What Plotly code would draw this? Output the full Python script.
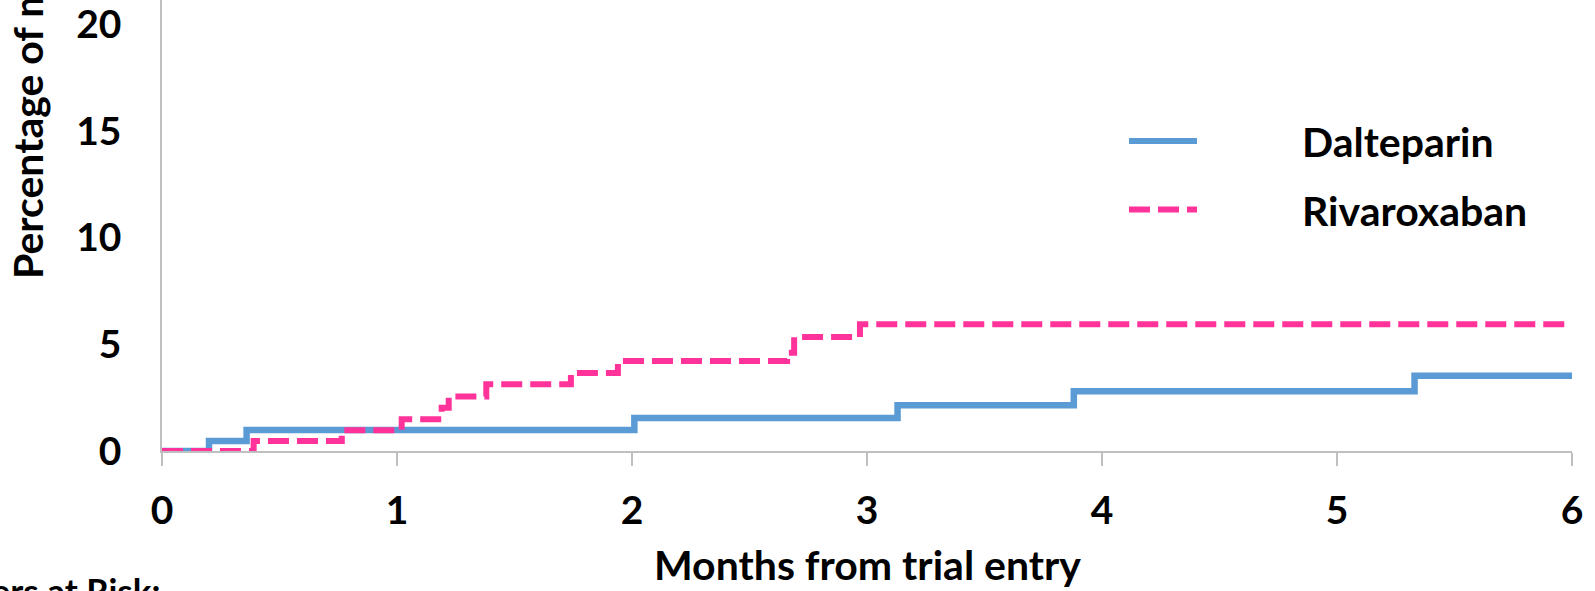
import plotly.graph_objects as go

# ---- data ----
months_ticks = [0, 1, 2, 3, 4, 5, 6]
pct_ticks = [0, 5, 10, 15, 20]

dalteparin_months = [0, 0.20, 0.36, 2.01, 3.13, 3.88, 5.33, 6.0]
dalteparin_pct = [0, 0.47, 0.99, 1.55, 2.15, 2.80, 3.53, 3.53]

rivaroxaban_months = [0, 0.39, 0.765, 1.02, 1.19, 1.22, 1.38, 1.74, 1.94, 2.66, 2.69, 2.97, 6.0]
rivaroxaban_pct = [0, 0.47, 0.97, 1.49, 2.03, 2.56, 3.13, 3.66, 4.22, 4.60, 5.34, 5.94, 5.94]

series_names = ["Dalteparin", "Rivaroxaban"]

FONT = "Lato"
FS = 41
FS_TICK = 39
BLUE = "#5B9BD5"
PINK = "#FF3399"
AXIS_GREY = "#BFBFBF"
DASH = "21px,8px"

W, H = 1595, 591
ML, MR, MT, MB = 162, 23, 0, 140
plot_w = W - ML - MR
plot_h = H - MT - MB


def px_x(pix):
    return (pix - ML) / plot_w


def px_y(pix):
    return (H - MB - pix) / plot_h


fig = go.Figure()
fig.add_trace(go.Scatter(
    x=dalteparin_months, y=dalteparin_pct, name=series_names[0],
    mode="lines", line=dict(color=BLUE, width=6.5, shape="hv"),
    showlegend=False,
))
fig.add_trace(go.Scatter(
    x=rivaroxaban_months, y=rivaroxaban_pct, name=series_names[1],
    mode="lines", line=dict(color=PINK, width=6, shape="hv", dash=DASH),
    showlegend=False,
))

tf = dict(family=FONT, size=FS, color="black", weight="bold")
tickf = dict(family=FONT, size=FS_TICK, color="black", weight="bold")

fig.update_layout(
    width=W, height=H,
    margin=dict(l=ML, r=MR, t=MT, b=MB, pad=0),
    paper_bgcolor="white", plot_bgcolor="white",
    font=tf,
    showlegend=False,
    xaxis=dict(
        range=[0, 6], tickvals=months_ticks, ticktext=[str(v) for v in months_ticks],
        showgrid=False, zeroline=False, automargin=False,
        showline=True, linecolor=AXIS_GREY, linewidth=1.5,
        ticks="outside", ticklen=13, tickcolor=AXIS_GREY, tickwidth=1.5,
        tickfont=tickf, ticklabelstandoff=11, ticklabeloverflow="allow",
    ),
    yaxis=dict(
        range=[0, 21.14], tickvals=pct_ticks, ticktext=[str(v) for v in pct_ticks],
        showgrid=False, zeroline=False, automargin=False,
        showline=True, linecolor=AXIS_GREY, linewidth=1.5,
        ticks="", tickfont=tickf, ticklabelstandoff=31, ticklabeloverflow="allow",
    ),
)

# legend drawn as key lines + labels (placed like the reference)
legend_rows = [(series_names[0], BLUE, "solid", 141), (series_names[1], PINK, DASH, 209.5)]
for name, color, dash, ypix in legend_rows:
    fig.add_shape(
        type="line", xref="paper", yref="paper",
        x0=px_x(1129), x1=px_x(1197), y0=px_y(ypix), y1=px_y(ypix),
        line=dict(color=color, width=6, dash=dash),
    )
    fig.add_annotation(
        text=name, xref="paper", yref="paper",
        x=px_x(1300), y=px_y(ypix + 1), xanchor="left", yanchor="middle",
        showarrow=False, font=tf,
    )

fig.add_annotation(
    text="Months from trial entry", xref="paper", yref="paper",
    x=0.5, y=px_y(538), xanchor="center", yanchor="top", showarrow=False,
    font=tf,
)
fig.add_annotation(
    text="Percentage of major bleeds", xref="paper", yref="paper",
    x=px_x(1), y=px_y(281), xanchor="left", yanchor="bottom",
    textangle=-90, showarrow=False, font=tf,
)
fig.add_annotation(
    text="Numbers at Risk:", xref="paper", yref="paper",
    x=0, y=px_y(567), xanchor="right", yanchor="top", showarrow=False,
    font=dict(family=FONT, size=35, color="black", weight="bold"),
)

fig.write_html(
    "out.html",
    config={"displayModeBar": False},
    post_script="document.body.style.margin='0';",
)
